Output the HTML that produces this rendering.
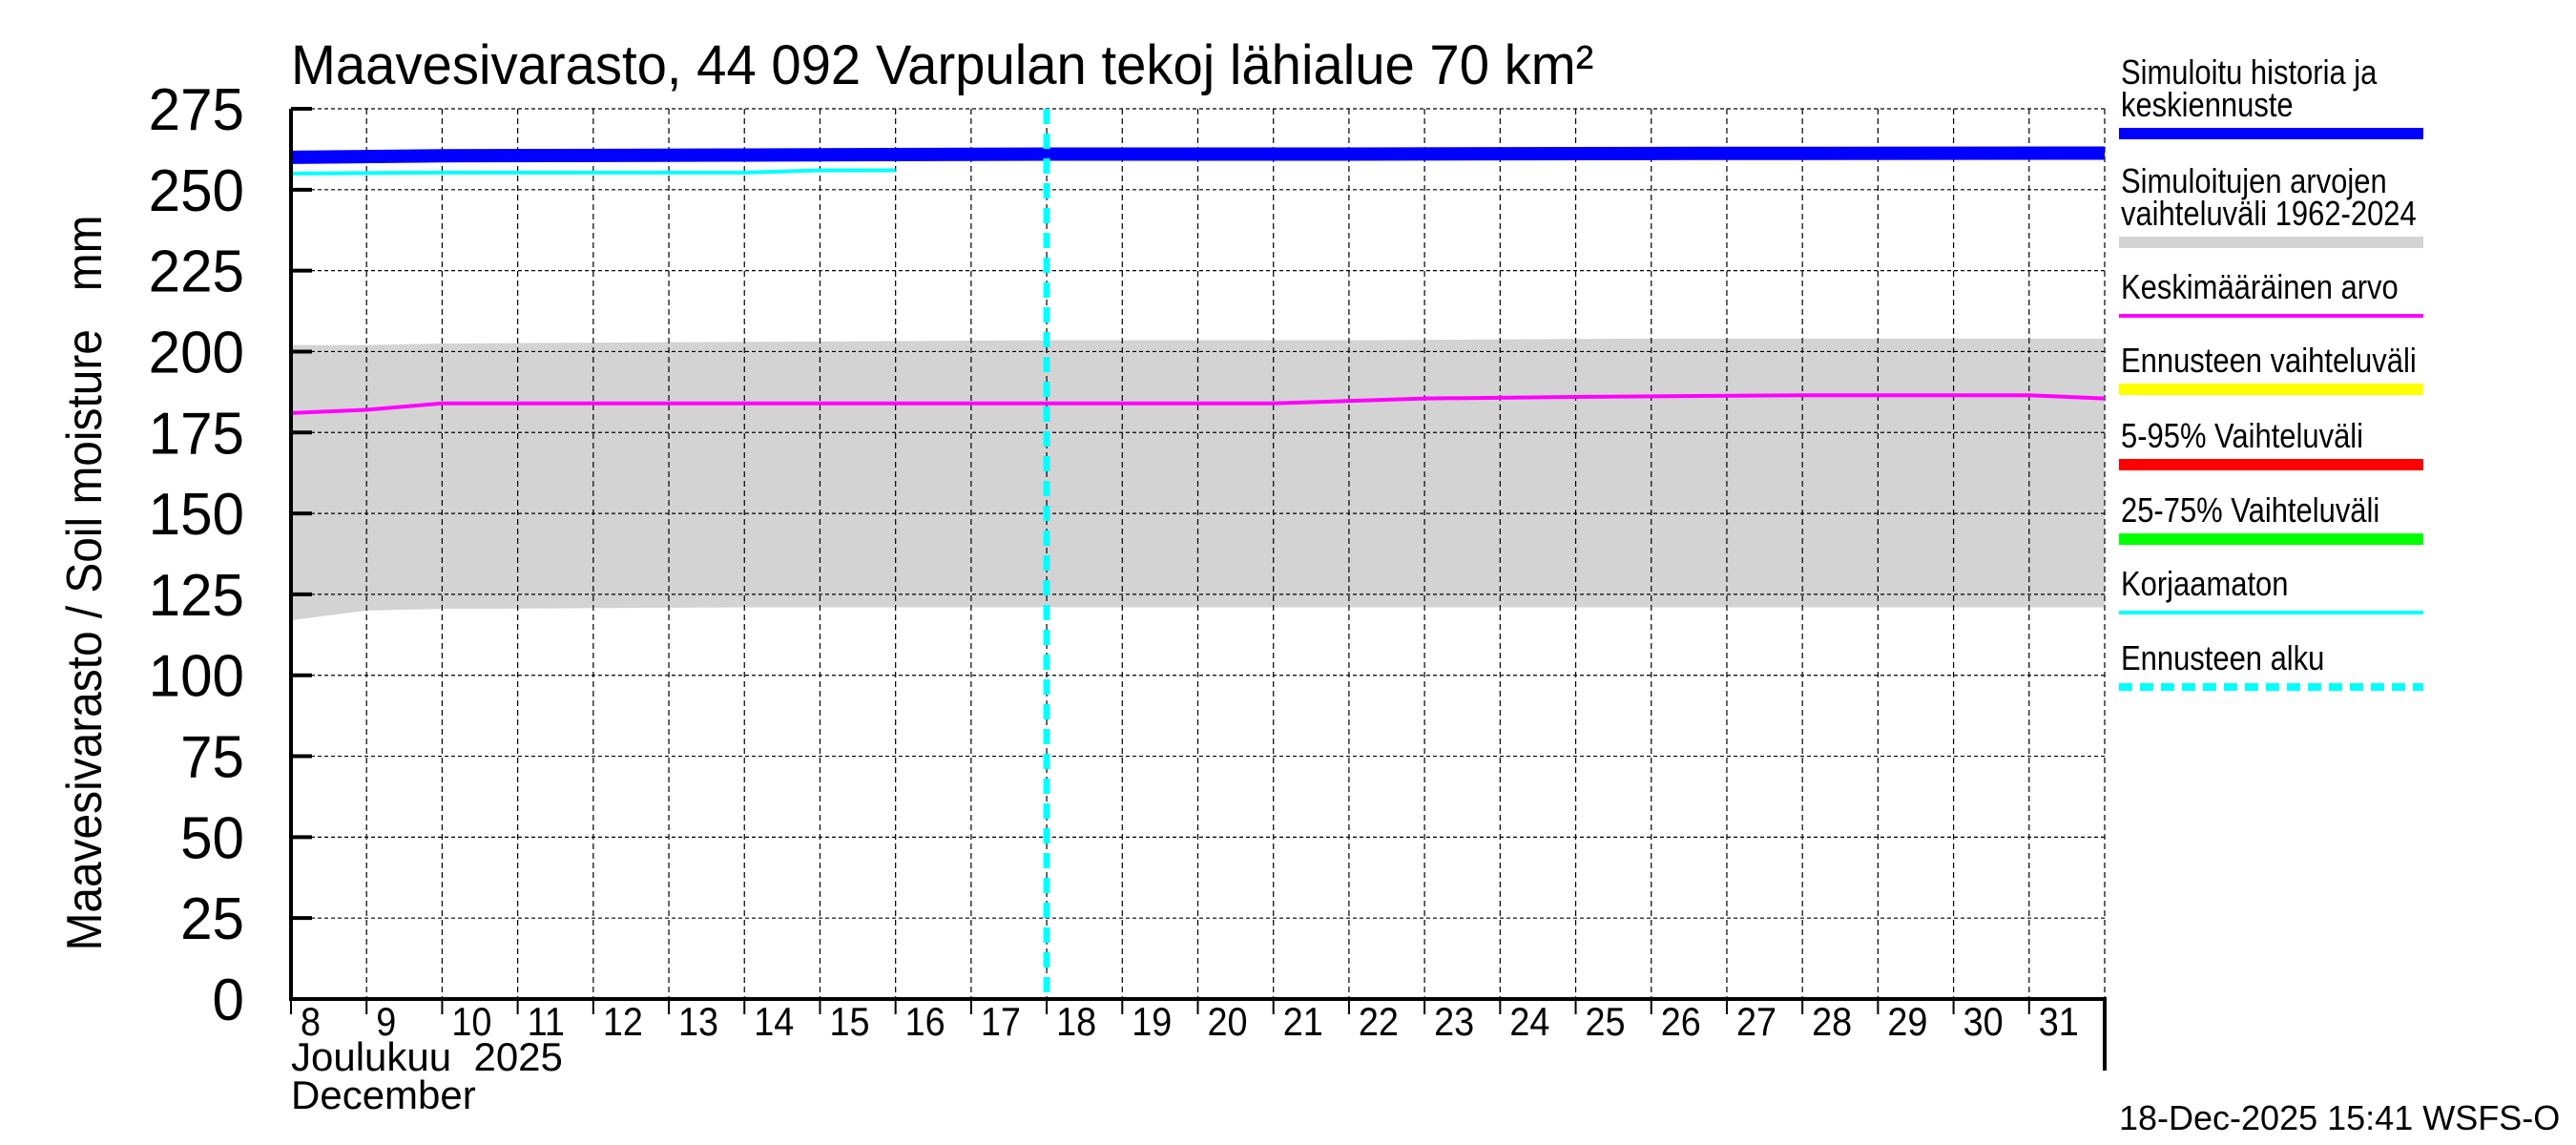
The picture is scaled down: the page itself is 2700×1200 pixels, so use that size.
<!DOCTYPE html>
<html><head><meta charset="utf-8"><style>
html,body{margin:0;padding:0;background:#fff}
svg{display:block;font-family:"Liberation Sans",sans-serif}
</style></head><body>
<svg id="c" width="2700" height="1200" viewBox="0 0 2700 1200"></svg>
<script>
const days=[8,9,10,11,12,13,14,15,16,17,18,19,20,21,22,23,24,25,26,27,28,29,30,31];
const yTicks=[0,25,50,75,100,125,150,175,200,225,250,275];
const simX=[8,10,14,18,22,26,32];
const simY=[260,260.5,260.7,261,261,261.2,261.3];
const uncorrX=[8,10,14,15,16];
const uncorrY=[255,255.3,255.3,256,256];
const bandX=[8,9,10,14,18,22,26,32];
const bandTop=[202,202,202.5,203,203.5,203.5,204,204];
const bandBot=[117,120,120.5,121,121,121,121,121];
const meanX=[8,9,10,12,16,21,23,25,28,31,32];
const meanY=[181,182,184,184,184,184,185.5,186,186.5,186.5,185.5];
const forecastStart=18;

const NS="http://www.w3.org/2000/svg";
const svg=document.getElementById('c');
const L=305,R=2206,T=114,B=1047;
const xs=d=>L+(d-8)*(R-L)/24;
const ys=v=>B-v*(B-T)/275;
function el(t,a,p){const e=document.createElementNS(NS,t);for(const k in a)e.setAttribute(k,a[k]);(p||svg).appendChild(e);return e;}
function txt(x,y,s,size,anchor,sx,p){const e=el('text',{x:0,y:0,'font-size':size,'text-anchor':anchor||'start',fill:'#000',transform:`translate(${x},${y}) scale(${sx||1},1)`},p);e.textContent=s;return e;}

// band
let pts=bandX.map((d,i)=>xs(d)+','+ys(bandTop[i]));
for(let i=bandX.length-1;i>=0;i--)pts.push(xs(bandX[i])+','+ys(bandBot[i]));
const band=el('polygon',{points:pts.join(' '),fill:'#d3d3d3'});



// grid
for(const v of yTicks){if(v===0)continue;const g=el('line',{x1:L,x2:R,y1:ys(v),y2:ys(v),stroke:'#000','stroke-width':1.2,'stroke-dasharray':'4,3'});

}
for(let d=9;d<=32;d++){const g=el('line',{x1:xs(d),x2:xs(d),y1:T,y2:B,stroke:'#000','stroke-width':1.2,'stroke-dasharray':'6,4'});

}

// series
function line(X,Y,color,w,name){const p=el('polyline',{points:X.map((d,i)=>xs(d)+','+ys(Y[i])).join(' '),fill:'none',stroke:color,'stroke-width':w});

}
line(meanX,meanY,'#ff00ff',4,'mean-line');
line(uncorrX,uncorrY,'#00ffff',4,'uncorrected-line');
line(simX,simY,'#0000ff',14,'simulated-line');
const fl=el('line',{x1:xs(forecastStart),x2:xs(forecastStart),y1:T,y2:B,stroke:'#00ffff','stroke-width':7,'stroke-dasharray':'16,10'});



// axes
const ax=el('path',{d:`M${L},${T} V${B} H${R} V1122`,fill:'none',stroke:'#000','stroke-width':4});


for(const v of yTicks){el('line',{x1:L,x2:L+22,y1:ys(v),y2:ys(v),stroke:'#000','stroke-width':4});
const t=txt(256,ys(v)+22,String(v),62,'end',0.97);

}
for(const d of days){el('line',{x1:xs(d),x2:xs(d),y1:B,y2:B+16,stroke:'#000','stroke-width':2});
const t=txt(xs(d)+10,B+38,String(d),42,'start',0.9);

}

const ttl=txt(305,88,'Maavesivarasto, 44 092 Varpulan tekoj lähialue 70 km²',58,'start',0.97);


const yl=el('text',{x:0,y:0,'font-size':52,'text-anchor':'middle',fill:'#000',transform:'translate(106,611) rotate(-90) scale(0.92,1)'});
yl.textContent='Maavesivarasto / Soil moisture\u00a0\u00a0\u00a0mm';


const m1=txt(305,1122,'Joulukuu\u00a0\u00a02025',42,'start',1);


const m2=txt(305,1162,'December',42,'start',1);


const ts=txt(2221,1184,'18-Dec-2025 15:41 WSFS-O',36,'start',1);



// legend
const legLabels=[['Simuloitu historia ja','keskiennuste'],['Simuloitujen arvojen','vaihteluväli 1962-2024'],['Keskimääräinen arvo'],['Ennusteen vaihteluväli'],['5-95% Vaihteluväli'],['25-75% Vaihteluväli'],['Korjaamaton'],['Ennusteen alku']];
const legColors=['#0000ff','#d3d3d3','#ff00ff','#ffff00','#ff0000','#00ff00','#00ffff','#00ffff'];
const legY=[140,254,331,408,487,565,642,720];
const legW=[12,12,4,12,12,12,4,8];
legLabels.forEach((lines,i)=>{
  const g=el('g',{});
  
  
  const n=lines.length;
  lines.forEach((s,j)=>txt(2223,legY[i]-18-(n-1-j)*34,s,36,'start',0.86,g));
  const a={x1:2221,x2:2540,y1:legY[i],y2:legY[i],stroke:legColors[i],'stroke-width':legW[i]};
  if(i===7)a['stroke-dasharray']='14,8';
  el('line',a,g);
});
</script>
</body></html>
